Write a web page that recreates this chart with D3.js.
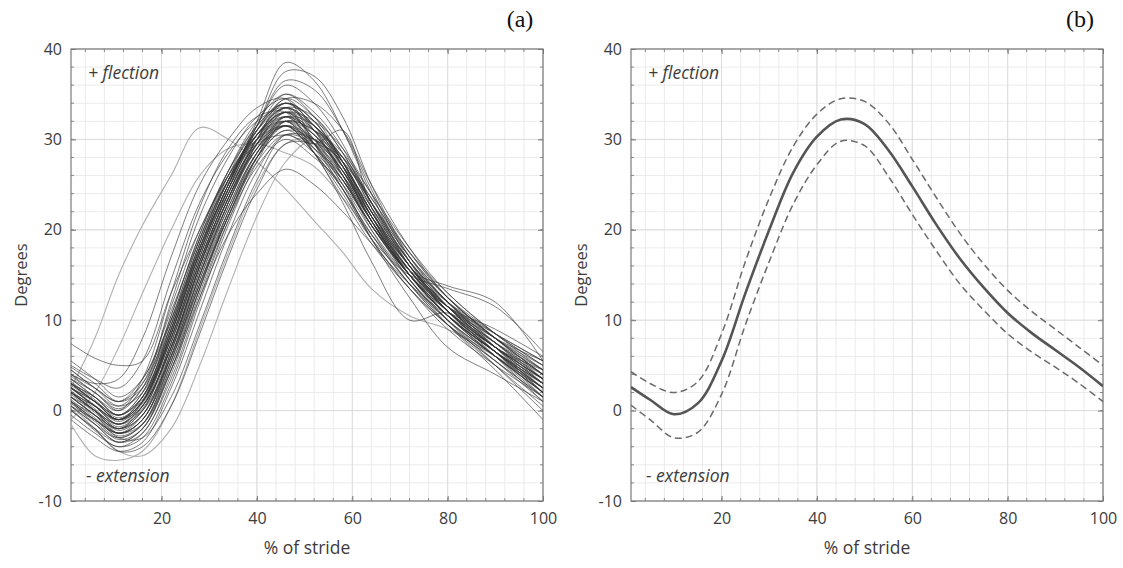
<!DOCTYPE html>
<html lang="en">
<head>
<meta charset="UTF-8">
<title>Degrees vs % of stride</title>
<script src="https://d3js.org/d3.v7.min.js"></script>
<style>
  body { margin: 0; background: #fff; }
  text { font-family: "Open Sans", "Noto Sans", sans-serif; fill: #3c3c3c; }
</style>
</head>
<body>
<svg width="1123" height="568" id="mainsvg"></svg>
<script>
// ---- data ----
const xTicks = [20, 40, 60, 80, 100]
const yTicks = [-10, 0, 10, 20, 30, 40]

// (a) individual strides, sampled at these % of stride
const trialX = [1, 6, 11, 16, 22, 28, 34, 40, 46, 52, 58, 64, 72, 80, 90, 100]
const trialsDark = [
  [2.5, 0.5, -1.5, 1.0, 9.0, 18.5, 25.5, 30.5, 33.0, 30.0, 26.0, 21.0, 15.0, 10.5, 6.5, 3.0],
  [4.0, 2.0, 0.5, 3.0, 11.5, 20.0, 26.0, 30.0, 31.5, 28.5, 24.5, 19.5, 14.0, 10.0, 6.0, 2.0],
  [1.0, -1.0, -3.0, -1.5, 5.5, 14.5, 22.0, 28.0, 31.0, 29.0, 26.0, 21.5, 16.0, 11.5, 7.5, 4.0],
  [3.0, 1.5, -0.5, 2.0, 10.5, 19.5, 26.5, 31.5, 34.0, 31.5, 27.0, 21.5, 15.5, 11.0, 7.0, 3.5],
  [0.5, -1.5, -3.5, -2.5, 4.0, 13.0, 21.0, 27.0, 30.0, 28.0, 25.0, 20.5, 15.0, 10.5, 6.0, 1.5],
  [5.5, 3.5, 1.5, 3.5, 11.0, 19.0, 25.5, 30.0, 32.5, 29.5, 25.5, 20.5, 15.0, 11.0, 7.5, 4.5],
  [2.0, 0.0, -2.0, 0.0, 7.5, 16.5, 24.0, 30.0, 34.5, 32.5, 28.5, 23.0, 16.5, 11.5, 7.0, 3.0],
  [-0.5, -2.5, -4.0, -3.0, 3.0, 12.0, 20.5, 27.5, 32.0, 31.0, 28.0, 22.5, 16.0, 11.0, 6.0, 1.0],
  [3.5, 2.0, 0.0, 2.5, 12.0, 21.5, 28.0, 32.5, 34.5, 31.0, 26.0, 20.5, 15.0, 11.0, 7.0, 4.0],
  [1.5, -0.5, -2.5, -1.0, 6.5, 16.0, 23.5, 29.5, 32.5, 30.5, 27.0, 22.5, 16.5, 12.0, 7.5, 3.0],
  [7.4, 5.8, 5.0, 5.5, 13.0, 20.0, 26.0, 30.5, 33.0, 30.5, 26.5, 21.0, 15.0, 10.5, 6.5, 3.0],
  [2.0, 0.5, -1.0, 1.5, 9.0, 18.0, 25.0, 31.5, 36.5, 35.5, 31.0, 24.5, 16.5, 11.0, 6.5, 2.0],
  [4.5, 2.5, 1.0, 3.5, 10.0, 18.0, 25.0, 32.0, 38.5, 36.5, 31.0, 24.0, 16.0, 11.5, 7.0, 4.5],
  [1.0, -1.0, -2.5, -1.5, 4.5, 12.5, 19.5, 24.0, 26.7, 25.0, 22.0, 18.5, 14.0, 10.5, 7.0, 3.5],
  [2.5, 1.0, -1.0, 1.5, 9.5, 18.5, 25.5, 29.5, 30.5, 29.5, 31.0, 22.5, 15.0, 11.0, 7.0, 3.0],
  [3.0, 1.0, -1.0, 1.0, 8.5, 17.5, 24.5, 29.5, 32.0, 28.5, 23.0, 16.5, 10.0, 10.8, 7.0, 3.5],
  [1.5, -0.5, -3.0, -3.0, 1.5, 9.5, 18.0, 25.5, 30.5, 30.0, 27.5, 23.0, 17.0, 12.5, 8.0, 4.5],
  [0.0, -2.0, -4.5, -4.0, 0.5, 8.5, 17.0, 24.5, 29.5, 29.5, 28.0, 23.5, 17.5, 13.0, 8.5, 5.0],
  [3.0, 1.5, 0.0, 3.5, 13.0, 22.5, 29.0, 32.5, 33.0, 28.5, 23.5, 18.5, 13.5, 9.5, 5.5, 1.5],
  [5.0, 3.5, 2.5, 5.5, 14.5, 23.0, 28.5, 32.0, 33.5, 29.5, 25.0, 20.0, 14.5, 10.0, 5.5, 1.0],
  [1.5, 0.0, -2.0, 0.5, 8.0, 17.0, 24.5, 30.5, 33.5, 31.5, 28.0, 22.5, 16.0, 11.0, 6.5, 2.5],
  [2.0, 0.0, -1.5, 0.5, 7.0, 15.5, 23.0, 29.0, 32.5, 31.0, 27.5, 22.0, 15.5, 10.5, 6.0, 2.0],
  [3.5, 1.5, -0.5, 1.5, 8.5, 17.5, 25.0, 31.0, 35.0, 33.0, 29.0, 23.0, 16.5, 12.0, 8.0, 5.0],
  [0.5, -1.5, -3.0, -1.5, 5.5, 14.5, 22.5, 28.5, 31.5, 29.5, 26.0, 21.0, 15.5, 11.5, 8.0, 5.5],
  [2.5, 0.5, -1.5, 0.0, 6.0, 14.0, 21.5, 28.0, 31.0, 30.0, 27.5, 23.5, 17.0, 12.0, 7.0, 2.5],
  [4.0, 2.5, 1.0, 3.0, 10.0, 19.0, 26.5, 32.0, 35.0, 32.5, 27.5, 21.5, 15.0, 10.5, 6.5, 3.0],
  [1.0, -0.5, -2.0, 0.0, 7.5, 16.5, 24.0, 29.5, 31.5, 28.5, 24.5, 19.5, 14.0, 9.5, 5.0, 0.5],
  [2.0, 0.0, -2.5, -1.0, 6.0, 15.0, 23.0, 29.5, 33.0, 32.0, 29.0, 24.0, 17.5, 12.5, 8.0, 4.0],
  [3.0, 1.0, -1.0, 1.0, 8.5, 17.5, 25.0, 31.0, 34.5, 34.0, 31.0, 25.0, 18.0, 12.5, 8.0, 4.0],
  [0.0, -2.0, -3.5, -2.0, 4.5, 13.5, 21.5, 28.0, 32.0, 31.0, 28.5, 24.0, 18.0, 13.0, 8.5, 4.5],
  [2.5, 1.0, -0.5, 2.0, 10.0, 19.0, 26.0, 30.5, 32.0, 29.0, 24.5, 19.0, 13.5, 9.0, 5.0, 1.5],
  [1.5, -0.5, -2.0, -0.5, 6.5, 15.5, 23.5, 30.0, 34.0, 32.0, 27.5, 21.5, 15.0, 10.0, 5.0, 0.0],
  [4.5, 2.5, 0.5, 2.0, 9.0, 17.5, 25.0, 30.5, 33.0, 30.0, 25.5, 20.5, 15.5, 12.0, 8.5, 5.5],
  [-1.0, -3.0, -4.5, -3.5, 2.5, 11.0, 19.5, 26.5, 30.5, 29.5, 27.0, 22.0, 16.0, 11.5, 7.5, 3.5],
  [2.0, 0.0, -1.5, 0.5, 7.0, 16.0, 24.5, 31.5, 36.0, 34.0, 29.5, 23.0, 16.0, 11.0, 6.5, 2.5],
  [3.0, 1.0, -0.5, 1.5, 8.0, 16.5, 24.0, 30.0, 33.5, 31.5, 27.5, 22.0, 15.5, 11.5, 9.0, 6.0],
  [1.0, -1.0, -2.5, -0.5, 7.0, 16.0, 23.5, 29.0, 31.5, 29.0, 25.5, 20.5, 14.5, 9.5, 4.5, -1.0],
  [2.5, 0.5, -1.0, 1.0, 8.0, 17.0, 24.5, 30.5, 33.5, 31.0, 27.0, 21.5, 15.5, 11.5, 8.0, 4.5],
  [0.5, -1.0, -2.5, -1.0, 5.5, 14.0, 21.5, 27.5, 30.5, 28.5, 25.5, 21.0, 15.5, 11.0, 6.5, 2.0],
  [3.5, 1.5, -0.5, 1.5, 9.5, 18.5, 26.0, 31.5, 34.0, 31.5, 27.0, 21.0, 15.0, 10.5, 6.5, 3.5],
  [2.0, 0.5, -1.0, 1.0, 8.5, 18.0, 25.5, 31.5, 37.5, 37.0, 32.5, 25.0, 17.0, 12.0, 7.5, 3.5],
  [2.5, 0.5, -1.5, 0.5, 7.0, 16.0, 23.5, 29.0, 31.5, 28.5, 24.0, 19.0, 15.0, 13.5, 11.5, 6.5],
  [1.5, -0.5, -2.5, -1.0, 6.0, 15.0, 23.0, 29.0, 32.0, 30.0, 26.5, 21.0, 15.5, 13.8, 12.0, 5.5],
  [3.0, 1.0, -1.0, 1.0, 8.5, 17.5, 25.0, 30.5, 32.5, 29.5, 25.0, 19.0, 12.5, 7.0, 4.0, 1.0],
  [4.0, 3.0, 3.5, 8.0, 17.0, 25.0, 30.0, 33.5, 34.5, 29.5, 24.5, 19.0, 13.5, 9.5, 6.0, 2.5],
  [2.0, 0.0, -2.0, -0.5, 6.5, 15.0, 22.5, 28.5, 31.5, 29.5, 26.5, 22.0, 16.5, 12.0, 7.0, 2.0],
  [1.0, -1.5, -3.5, -2.0, 5.0, 14.0, 22.0, 28.5, 32.5, 30.5, 26.5, 21.0, 15.0, 10.5, 6.0, 2.5],
  [2.8, 1.0, -1.0, 0.5, 7.5, 16.5, 24.0, 30.0, 33.0, 31.0, 27.0, 21.5, 15.5, 11.0, 7.0, 3.5],
  [1.2, -0.8, -2.8, -1.5, 5.0, 13.5, 21.5, 28.0, 31.5, 30.0, 26.5, 21.5, 16.0, 12.0, 8.0, 4.0],
  [3.8, 2.0, 0.2, 2.5, 10.5, 19.5, 26.5, 31.0, 33.5, 31.0, 26.0, 20.0, 14.0, 9.5, 5.5, 1.5],
  [0.2, -2.2, -4.0, -2.5, 3.5, 12.5, 21.0, 28.0, 32.5, 31.5, 27.5, 22.0, 16.0, 11.5, 7.0, 3.0],
  [2.2, 0.2, -1.8, 0.2, 7.0, 16.0, 23.5, 29.5, 33.0, 31.5, 28.0, 23.0, 17.0, 12.5, 8.5, 5.0],
  [4.8, 3.0, 1.0, 2.5, 9.5, 18.0, 25.5, 31.0, 34.0, 32.0, 27.0, 21.0, 14.5, 10.0, 6.0, 2.0],
  [1.8, -0.2, -2.2, -0.5, 6.0, 15.0, 23.0, 29.5, 33.5, 32.5, 28.5, 23.0, 16.5, 11.5, 6.5, 1.5],
  [3.2, 1.2, -0.8, 1.2, 9.0, 18.0, 25.5, 31.0, 34.0, 32.0, 27.5, 22.0, 16.0, 11.5, 7.5, 4.0],
  [0.8, -1.2, -3.2, -2.0, 4.5, 13.5, 22.0, 28.5, 32.0, 30.5, 26.5, 21.0, 15.0, 10.5, 6.5, 2.5],
  [2.6, 0.6, -1.2, 0.8, 8.0, 17.0, 24.5, 30.0, 32.0, 29.5, 25.5, 20.5, 15.0, 11.5, 8.5, 5.5]
]
const trialsLight = [
  [2.5, 8.0, 15.0, 20.5, 26.0, 31.3, 30.0, 27.5, 24.5, 21.0, 17.5, 13.5, 10.5, 9.0, 6.0, 3.0],
  [-1.0, 2.0, 7.0, 13.0, 20.0, 26.0, 29.0, 29.5, 28.5, 27.0, 23.5, 19.5, 14.5, 10.0, 6.0, 2.0],
  [-1.5, -5.0, -5.5, -4.5, 0.5, 9.0, 17.5, 25.0, 29.5, 30.0, 26.0, 20.5, 15.0, 10.5, 6.5, 2.5],
  [0.5, -2.0, -4.5, -5.0, -2.0, 5.0, 13.5, 21.5, 27.5, 30.0, 28.0, 23.0, 17.5, 12.5, 8.0, 3.5]
]

// (b) mean and +/- 1 SD
const meanX = [1, 5, 10, 15, 20, 25, 30, 35, 40, 45, 50, 55, 60, 65, 70, 75, 80, 85, 90, 95, 100]
const meanDeg = [2.6, 1.2, -0.4, 0.8, 5.5, 13.0, 20.0, 26.3, 30.3, 32.2, 31.7, 28.8, 24.8, 20.6, 16.8, 13.6, 10.8, 8.6, 6.7, 4.8, 2.7]
const upperDeg = [4.3, 3.0, 2.0, 3.2, 8.5, 16.5, 23.5, 29.2, 32.8, 34.5, 34.2, 31.8, 27.8, 23.6, 19.6, 16.2, 13.3, 11.0, 9.0, 7.0, 5.0]
const lowerDeg = [0.6, -1.0, -3.0, -2.4, 1.8, 9.5, 16.5, 22.8, 27.2, 29.8, 29.3, 25.9, 21.7, 17.7, 14.0, 11.1, 8.5, 6.5, 4.8, 3.0, 1.0]

// ---- layout ----
const svg = d3.select("#mainsvg")
const panelW = 472, panelH = 452

function drawPanel(left, top, tag) {
  const g = svg.append("g").attr("transform", `translate(${left}, ${top})`)
  const x = d3.scaleLinear().domain([1, 100]).range([0, panelW])
  const y = d3.scaleLinear().domain([-10, 40]).range([panelH, 0])

  const clipId = "clip-" + tag
  g.append("clipPath").attr("id", clipId).append("rect").attr("width", panelW).attr("height", panelH)

  // minor grid
  const xMinor = d3.range(4, 100, 4)
  const yMinor = d3.range(-8, 40, 2)
  g.append("g").selectAll("line").data(xMinor).join("line")
    .attr("x1", d => x(d)).attr("x2", d => x(d)).attr("y1", 0).attr("y2", panelH)
    .attr("stroke", "#ebebeb").attr("stroke-width", 1)
  g.append("g").selectAll("line").data(yMinor).join("line")
    .attr("y1", d => y(d)).attr("y2", d => y(d)).attr("x1", 0).attr("x2", panelW)
    .attr("stroke", "#ebebeb").attr("stroke-width", 1)
  // major grid
  g.append("g").selectAll("line").data(xTicks).join("line")
    .attr("x1", d => x(d)).attr("x2", d => x(d)).attr("y1", 0).attr("y2", panelH)
    .attr("stroke", "#dcdcdc").attr("stroke-width", 1)
  g.append("g").selectAll("line").data(yTicks).join("line")
    .attr("y1", d => y(d)).attr("y2", d => y(d)).attr("x1", 0).attr("x2", panelW)
    .attr("stroke", "#dcdcdc").attr("stroke-width", 1)

  // axes with inward ticks
  const fmt = d => String(d)
  const xAxis = d3.axisBottom(x).tickValues(xTicks).tickSize(-5).tickPadding(12).tickFormat(fmt)
  const yAxis = d3.axisLeft(y).tickValues(yTicks).tickSize(-5).tickPadding(9).tickFormat(fmt)
  g.append("g").attr("transform", `translate(0, ${panelH})`).call(xAxis)
  g.append("g").call(yAxis)
  g.append("g").call(d3.axisTop(x).tickValues(xTicks).tickSize(-5).tickFormat(""))
  g.append("g").attr("transform", `translate(${panelW}, 0)`).call(d3.axisRight(y).tickValues(yTicks).tickSize(-5).tickFormat(""))
  // minor tick marks
  const minorTicks = g.append("g").attr("stroke", "#8a8a8a")
  xMinor.forEach(d => {
    minorTicks.append("line").attr("x1", x(d)).attr("x2", x(d)).attr("y1", panelH).attr("y2", panelH - 3)
    minorTicks.append("line").attr("x1", x(d)).attr("x2", x(d)).attr("y1", 0).attr("y2", 3)
  })
  yMinor.forEach(d => {
    minorTicks.append("line").attr("y1", y(d)).attr("y2", y(d)).attr("x1", 0).attr("x2", 3)
    minorTicks.append("line").attr("y1", y(d)).attr("y2", y(d)).attr("x1", panelW).attr("x2", panelW - 3)
  })
  g.selectAll(".domain").remove()
  g.selectAll(".tick line").attr("stroke", "#777")
  g.selectAll(".tick text").attr("font-size", 16).attr("fill", "#333")
    .attr("font-family", '"Open Sans", sans-serif')

  // frame
  g.append("rect").attr("width", panelW).attr("height", panelH)
    .attr("fill", "none").attr("stroke", "#7a7a7a").attr("stroke-width", 1.2)

  // annotations
  g.append("text").attr("x", 17).attr("y", 30).attr("font-size", 17.5)
    .attr("font-style", "italic").text("+ flection")
  g.append("text").attr("x", 15).attr("y", 433).attr("font-size", 17.5)
    .attr("font-style", "italic").text("- extension")

  g.append("text").attr("x", panelW / 2).attr("y", panelH + 53).attr("font-size", 17.5)
    .attr("text-anchor", "middle").text("% of stride")
  g.append("text").attr("transform", `translate(${-44}, ${panelH / 2}) rotate(-90)`)
    .attr("font-size", 16.5).attr("text-anchor", "middle").text("Degrees")
  g.append("text").attr("x", panelW - 23).attr("y", -22).attr("font-size", 24)
    .attr("text-anchor", "middle").style("font-family", '"Liberation Serif", "DejaVu Serif", serif')
    .style("fill", "#111").text(`(${tag})`)

  const plot = g.append("g").attr("clip-path", `url(#${clipId})`)
  return { plot, x, y }
}

// ---- panel (a) ----
const pa = drawPanel(71, 49, "a")
const lineA = d3.line()
  .x((d, i) => pa.x(trialX[i]))
  .y(d => pa.y(d))
  .curve(d3.curveCatmullRom.alpha(0.5))
pa.plot.selectAll(".light").data(trialsLight).join("path").attr("class", "light")
  .attr("d", lineA).attr("fill", "none").attr("stroke", "#b0b0b0").attr("stroke-width", 1.1)
pa.plot.selectAll(".dark").data(trialsDark).join("path").attr("class", "dark")
  .attr("d", lineA).attr("fill", "none").attr("stroke", "#333")
  .attr("stroke-opacity", 0.7).attr("stroke-width", 0.9)

// ---- panel (b) ----
const pb = drawPanel(631, 49, "b")
const lineB = d3.line()
  .x((d, i) => pb.x(meanX[i]))
  .y(d => pb.y(d))
  .curve(d3.curveCatmullRom.alpha(0.5))
;[upperDeg, lowerDeg].forEach(arr => {
  pb.plot.append("path").datum(arr).attr("d", lineB)
    .attr("fill", "none").attr("stroke", "#6a6a6a").attr("stroke-width", 1.5)
    .attr("stroke-dasharray", "7,4")
})
pb.plot.append("path").datum(meanDeg).attr("d", lineB)
  .attr("fill", "none").attr("stroke", "#555").attr("stroke-width", 2.6)
</script>
</body>
</html>
